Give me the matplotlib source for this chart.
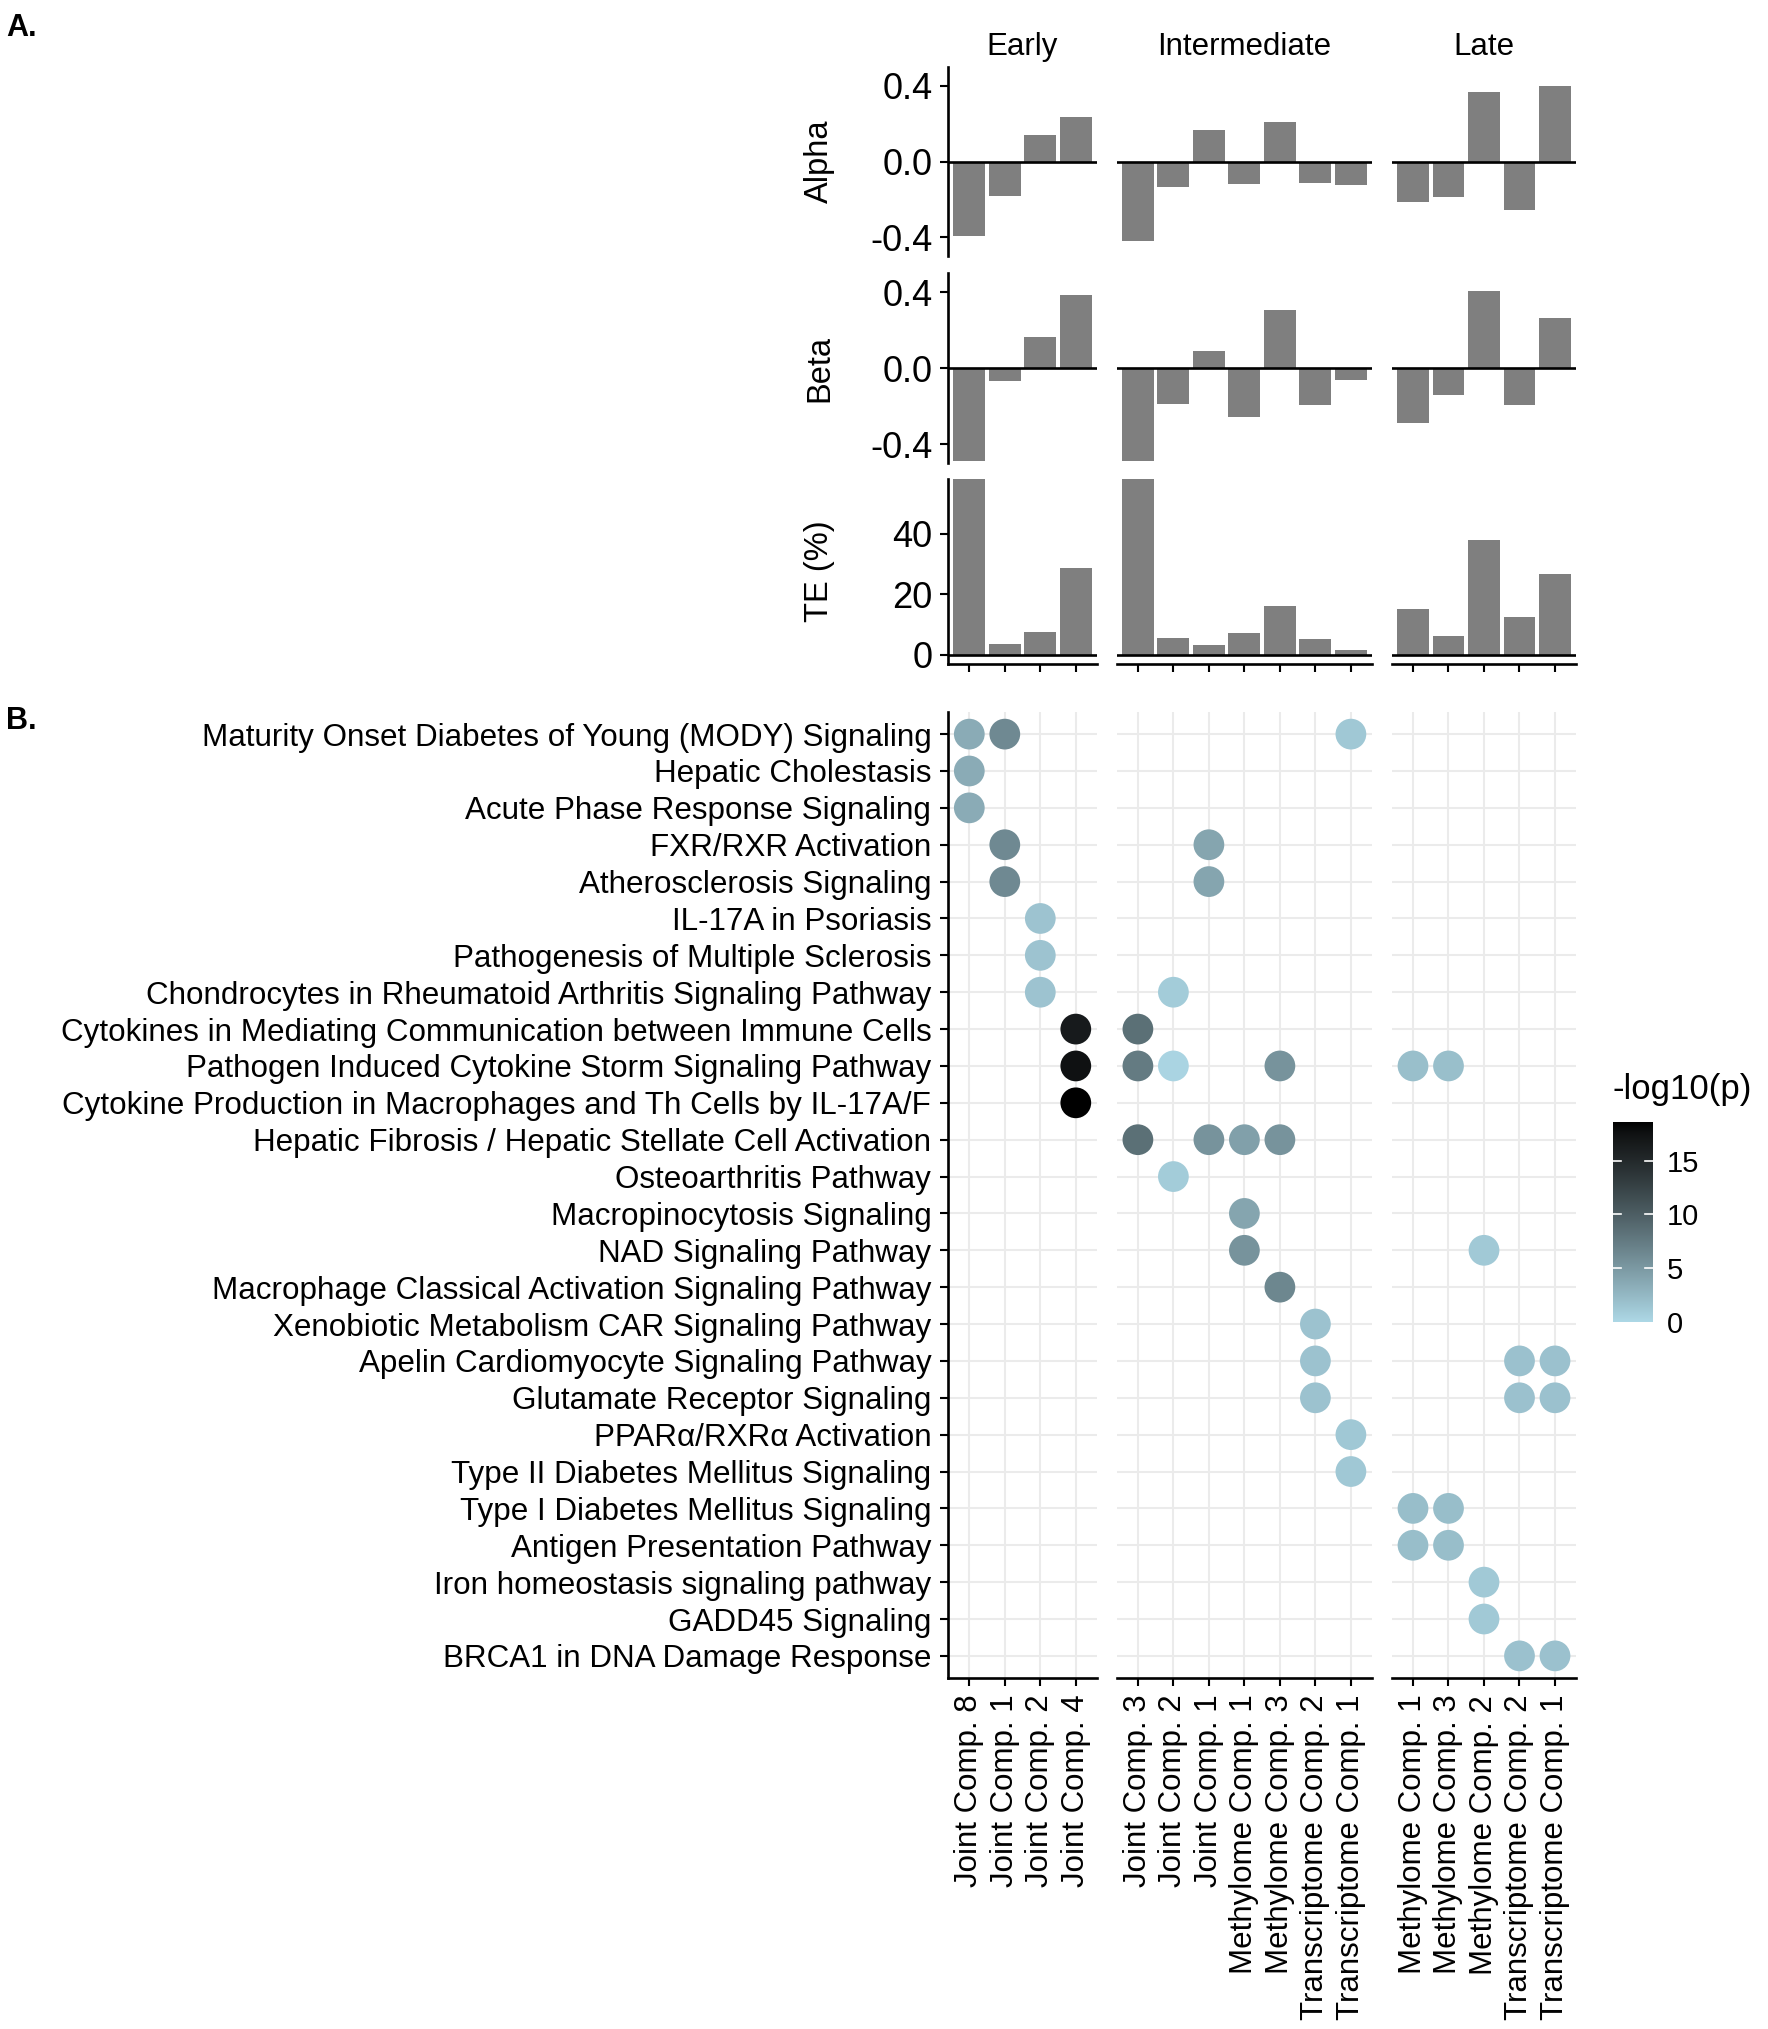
import numpy as np
import matplotlib
matplotlib.use("Agg")
import matplotlib.pyplot as plt
from matplotlib.colors import ListedColormap, Normalize

plt.rcParams['font.family'] = ['Liberation Sans', 'DejaVu Sans']

# ---- data ----
stages = ["Early", "Intermediate", "Late"]
early_comps = ["Joint Comp. 8", "Joint Comp. 1", "Joint Comp. 2", "Joint Comp. 4"]
inter_comps = ["Joint Comp. 3", "Joint Comp. 2", "Joint Comp. 1", "Methylome Comp. 1",
               "Methylome Comp. 3", "Transcriptome Comp. 2", "Transcriptome Comp. 1"]
late_comps = ["Methylome Comp. 1", "Methylome Comp. 3", "Methylome Comp. 2",
              "Transcriptome Comp. 2", "Transcriptome Comp. 1"]
comps = [early_comps, inter_comps, late_comps]

alpha_early = [-0.393, -0.183, 0.142, 0.235]
alpha_inter = [-0.418, -0.135, 0.165, -0.121, 0.208, -0.112, -0.123]
alpha_late = [-0.213, -0.187, 0.366, -0.256, 0.398]

beta_early = [-0.49, -0.071, 0.165, 0.382]
beta_inter = [-0.49, -0.187, 0.087, -0.256, 0.306, -0.197, -0.064]
beta_late = [-0.288, -0.142, 0.405, -0.197, 0.261]

te_early = [58, 3.6, 7.4, 28.6]
te_inter = [58, 5.7, 3.4, 7.3, 16.0, 5.1, 1.6]
te_late = [15.3, 6.3, 37.9, 12.6, 26.7]

pathways = [
    "Maturity Onset Diabetes of Young (MODY) Signaling",
    "Hepatic Cholestasis",
    "Acute Phase Response Signaling",
    "FXR/RXR Activation",
    "Atherosclerosis Signaling",
    "IL-17A in Psoriasis",
    "Pathogenesis of Multiple Sclerosis",
    "Chondrocytes in Rheumatoid Arthritis Signaling Pathway",
    "Cytokines in Mediating Communication between Immune Cells",
    "Pathogen Induced Cytokine Storm Signaling Pathway",
    "Cytokine Production in Macrophages and Th Cells by IL-17A/F",
    "Hepatic Fibrosis / Hepatic Stellate Cell Activation",
    "Osteoarthritis Pathway",
    "Macropinocytosis Signaling",
    "NAD Signaling Pathway",
    "Macrophage Classical Activation Signaling Pathway",
    "Xenobiotic Metabolism CAR Signaling Pathway",
    "Apelin Cardiomyocyte Signaling Pathway",
    "Glutamate Receptor Signaling",
    "PPARα/RXRα Activation",
    "Type II Diabetes Mellitus Signaling",
    "Type I Diabetes Mellitus Signaling",
    "Antigen Presentation Pathway",
    "Iron homeostasis signaling pathway",
    "GADD45 Signaling",
    "BRCA1 in DNA Damage Response",
]

# enrichment dots: stage index, component index within stage, pathway index, -log10(p)
dot_stage = [0, 0, 0, 0, 0, 0, 0, 0, 0, 0, 0, 0,
             1, 1, 1, 1, 1, 1, 1, 1, 1, 1, 1, 1, 1, 1, 1, 1, 1, 1, 1, 1, 1,
             2, 2, 2, 2, 2, 2, 2, 2, 2, 2, 2, 2, 2, 2, 2]
dot_comp = [0, 1, 0, 0, 1, 1, 2, 2, 2, 3, 3, 3,
            6, 2, 2, 1, 0, 0, 1, 4, 0, 2, 3, 4, 1, 3, 3, 4, 5, 5, 5, 6, 6,
            0, 1, 2, 3, 4, 3, 4, 0, 1, 0, 1, 2, 2, 3, 4]
dot_path = [0, 0, 1, 2, 3, 4, 5, 6, 7, 8, 9, 10,
            0, 3, 4, 7, 8, 9, 9, 9, 11, 11, 11, 11, 12, 13, 14, 15, 16, 17, 18, 19, 20,
            9, 9, 14, 17, 17, 18, 18, 21, 21, 22, 22, 23, 24, 25, 25]
dot_logp = [3.5, 6.3, 3.5, 3.5, 6.3, 6.3, 1.6, 1.6, 1.6, 16.5, 17.5, 18.6,
            1.3, 4.0, 4.0, 1.0, 8.5, 7.5, 0.3, 5.5, 8.5, 5.5, 4.5, 5.5, 1.0, 4.0, 5.5, 6.5,
            1.7, 1.7, 1.7, 1.3, 1.3,
            2.0, 2.0, 1.2, 1.8, 1.8, 1.8, 1.8, 2.1, 2.1, 2.1, 2.1, 1.2, 1.2, 1.8, 1.8]


# ---- lightblue -> black gradient interpolated in Lab (like ggplot) ----
M = np.array([[0.4124, 0.3576, 0.1805], [0.2126, 0.7152, 0.0722], [0.0193, 0.1192, 0.9505]])
WHITE = np.array([0.95047, 1.0, 1.08883])


def to_lab(rgb):
    rgb = np.asarray(rgb, float)
    lin = np.where(rgb <= 0.04045, rgb / 12.92, ((rgb + 0.055) / 1.055) ** 2.4)
    xyz = M @ lin / WHITE
    f = np.where(xyz > 0.008856, np.cbrt(xyz), 7.787 * xyz + 16 / 116)
    return np.array([116 * f[1] - 16, 500 * (f[0] - f[1]), 200 * (f[1] - f[2])])


def from_lab(lab):
    L, a, b = lab
    fy = (L + 16) / 116
    f = np.array([fy + a / 500, fy, fy - b / 200])
    xyz = np.where(f ** 3 > 0.008856, f ** 3, (f - 16 / 116) / 7.787) * WHITE
    lin = np.linalg.inv(M) @ xyz
    lin = np.clip(lin, 0, None)
    rgb = np.where(lin <= 0.0031308, 12.92 * lin, 1.055 * lin ** (1 / 2.4) - 0.055)
    return np.clip(rgb, 0, 1)


lo = to_lab(np.array([173, 216, 230]) / 255)
hi = to_lab(np.array([0, 0, 0]))
cmap = ListedColormap([from_lab(lo + (hi - lo) * t) for t in np.linspace(0, 1, 256)])
norm = Normalize(vmin=0, vmax=18.6)

# ---- layout (pixels) ----
W, H = 1768, 2029
fig = plt.figure(figsize=(W / 100, H / 100), dpi=100)


def ax_at(x0, y0, x1, y1):
    return fig.add_axes([x0 / W, 1 - y1 / H, (x1 - x0) / W, (y1 - y0) / H])


u = 35.5
gap = 19.5
left0 = 948
xs = []
x = left0
for c in comps:
    w = (len(c) + 0.2) * u
    xs.append((x, x + w))
    x += w + gap

rows = [(67, 256), (273, 463), (479, 664)]
bar_sets = [[alpha_early, alpha_inter, alpha_late],
            [beta_early, beta_inter, beta_late],
            [te_early, te_inter, te_late]]
ylabels = ["Alpha", "Beta", "TE (%)"]
ylims = [(-0.5, 0.5), (-0.5, 0.5), (-3, 58)]
yticks = [[-0.4, 0.0, 0.4], [-0.4, 0.0, 0.4], [0, 20, 40]]

LW = 1.9
TICKLEN = 6
for r, (y0, y1) in enumerate(rows):
    for s, (x0, x1) in enumerate(xs):
        ax = ax_at(x0, y0, x1, y1)
        vals = bar_sets[r][s]
        ax.bar(np.arange(len(vals)), vals, width=0.9, color="#7F7F7F")
        ax.axhline(0, color="black", lw=LW)
        ax.set_xlim(-0.6, len(vals) - 0.4)
        ax.set_ylim(*ylims[r])
        for sp in ax.spines.values():
            sp.set_visible(False)
        ax.tick_params(width=LW * 0.8, length=TICKLEN, labelsize=26, colors="black", pad=5)
        if s == 0:
            ax.spines["left"].set_visible(True)
            ax.spines["left"].set_linewidth(LW)
            ax.set_yticks(yticks[r])
            ax.set_yticklabels(["%.1f" % v if r < 2 else "%d" % v for v in yticks[r]])
            ax.set_ylabel(ylabels[r], fontsize=23.5)
            ax.yaxis.set_label_coords((835 - x0) / (x1 - x0), 0.5)
        else:
            ax.set_yticks([])
        if r == 2:
            ax.spines["bottom"].set_visible(True)
            ax.spines["bottom"].set_linewidth(LW)
            ax.set_xticks(np.arange(len(vals)))
            ax.set_xticklabels([])
        else:
            ax.set_xticks([])
        if r == 0:
            ax.text(0.5, 1.0 + (y0 - 55) / (y1 - y0), stages[s], transform=ax.transAxes,
                    ha="center", va="baseline", fontsize=22.5)

# ---- dot plot ----
dot_top, dot_bot = 712, 1678
n = len(pathways)
dot_stage = np.array(dot_stage)
dot_comp = np.array(dot_comp)
dot_path = np.array(dot_path)
dot_logp = np.array(dot_logp)
for s, (x0, x1) in enumerate(xs):
    ax = ax_at(x0, dot_top, x1, dot_bot)
    m = dot_stage == s
    ax.set_axisbelow(True)
    ax.scatter(dot_comp[m], dot_path[m], c=dot_logp[m], cmap=cmap, norm=norm,
               s=490, linewidths=0, zorder=3)
    ax.set_xlim(-0.6, len(comps[s]) - 0.4)
    ax.set_ylim(n - 0.4, -0.6)
    ax.set_xticks(np.arange(len(comps[s])))
    ax.set_xticklabels(comps[s], rotation=90, fontsize=22.5)
    ax.set_yticks(np.arange(n))
    ax.grid(True, color="#EBEBEB", lw=1.5)
    for sp in ax.spines.values():
        sp.set_visible(False)
    ax.spines["bottom"].set_visible(True)
    ax.spines["bottom"].set_linewidth(LW)
    ax.tick_params(width=LW * 0.8, length=TICKLEN, colors="black", labelsize=22.5, pad=6)
    if s == 0:
        ax.spines["left"].set_visible(True)
        ax.spines["left"].set_linewidth(LW)
        ax.set_yticklabels(pathways, fontsize=22.6)
    else:
        ax.tick_params(axis="y", length=0, labelleft=False)

# ---- colour bar ----
cax = ax_at(1613, 1122, 1653, 1322)
grad = np.linspace(0, 18.6, 256).reshape(-1, 1)
cax.imshow(grad, aspect="auto", cmap=cmap, norm=norm, origin="lower",
           extent=[0, 1, 0, 18.6])
cax.set_xlim(0, 1)
cax.set_ylim(0, 18.6)
cax.set_xticks([])
cax.yaxis.tick_right()
cax.set_yticks([0, 5, 10, 15])
cax.tick_params(axis="y", length=0, labelsize=21, pad=10)
for v in [5, 10, 15]:
    cax.plot([0, 0.2], [v, v], color="white", lw=1.2)
    cax.plot([0.8, 1], [v, v], color="white", lw=1.2)
for sp in cax.spines.values():
    sp.set_visible(False)
fig.text(1613 / W, 1 - 1090 / H, "-log10(p)", fontsize=25, ha="left", va="center")

# ---- panel tags ----
fig.text(6 / W, 1 - 28 / H, "A.", fontsize=22, fontweight="bold", ha="left", va="center")
fig.text(6 / W, 1 - 721 / H, "B.", fontsize=22, fontweight="bold", ha="left", va="center")

fig.savefig("out.png", dpi=100, facecolor="white")
